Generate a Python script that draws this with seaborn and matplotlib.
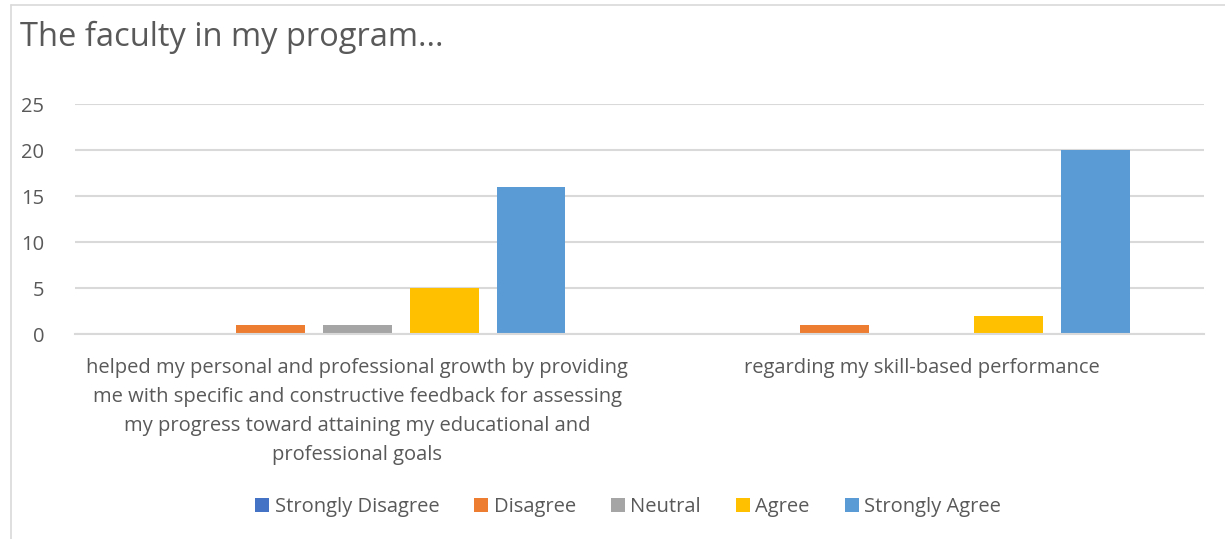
import matplotlib
matplotlib.use("Agg")
import matplotlib.pyplot as plt
import seaborn as sns
import pandas as pd
from matplotlib.lines import Line2D

categories = [
    "helped my personal and professional growth by providing\nme with specific and constructive feedback for assessing\nmy progress toward attaining my educational and\nprofessional goals",
    "regarding my skill-based performance",
]
responses = ["Strongly Disagree", "Disagree", "Neutral", "Agree", "Strongly Agree"]
values_q1 = [0, 1, 1, 5, 16]
values_q2 = [0, 1, 0, 2, 20]
colors = ["#4472C4", "#ED7D31", "#A5A5A5", "#FFC000", "#5B9BD5"]
yticks = [0, 5, 10, 15, 20, 25]

rows = []
for r, a, b in zip(responses, values_q1, values_q2):
    rows.append({"question": categories[0], "response": r, "count": a})
    rows.append({"question": categories[1], "response": r, "count": b})
df = pd.DataFrame(rows)

sns.set_theme(style="white")
plt.rcParams['font.family'] = ['Open Sans', 'DejaVu Sans']
txt = "#595959"
grid = "#D9D9D9"

fig = plt.figure(figsize=(12.25, 5.39), dpi=100)
W, H = 1225, 539
ax = fig.add_axes([75 / W, 1 - 334 / H, (1204 - 75) / W, (334 - 104) / H])

sns.barplot(data=df, x="question", y="count", hue="response", order=categories,
            hue_order=responses, palette=colors, width=0.77, gap=0.21,
            saturation=1, ax=ax, legend=True, errorbar=None, linewidth=0)

ax.set_ylim(0, 25)
ax.set_yticks(yticks)
ax.set_xlim(-0.5, 1.5)
ax.yaxis.grid(True, color=grid, linewidth=1.5)
ax.set_axisbelow(True)
for s in ["top", "right", "left"]:
    ax.spines[s].set_visible(False)
ax.spines["bottom"].set_color(grid)
ax.spines["bottom"].set_linewidth(1.5)
ax.tick_params(axis="both", length=0, labelsize=14.5, colors=txt)
ax.tick_params(axis="x", pad=17)
ax.tick_params(axis="y", pad=22)
for lab in ax.get_xticklabels():
    lab.set_linespacing(1.6)
    lab.set_verticalalignment("top")
ax.set_xlabel("")
ax.set_ylabel("")

handles, labels = ax.get_legend_handles_labels()
ax.get_legend().remove()
fig.legend(handles, labels, loc="center", bbox_to_anchor=(628 / W, 1 - 507 / H),
           ncol=5, frameon=False, fontsize=14.5, labelcolor=txt,
           handlelength=0.7, handleheight=0.7, handletextpad=0.25, columnspacing=1.75)

fig.text(20 / W, 1 - 37 / H, "The faculty in my program...", fontsize=23.5, color=txt,
         ha="left", va="center")

# chart frame lines
fig.add_artist(Line2D([11 / W, 11 / W], [0, 1 - 5 / H], color=grid, linewidth=1.2,
                      transform=fig.transFigure))
fig.add_artist(Line2D([11 / W, 1], [1 - 5 / H, 1 - 5 / H], color=grid, linewidth=1.2,
                      transform=fig.transFigure))

fig.savefig("out.png", dpi=100)
